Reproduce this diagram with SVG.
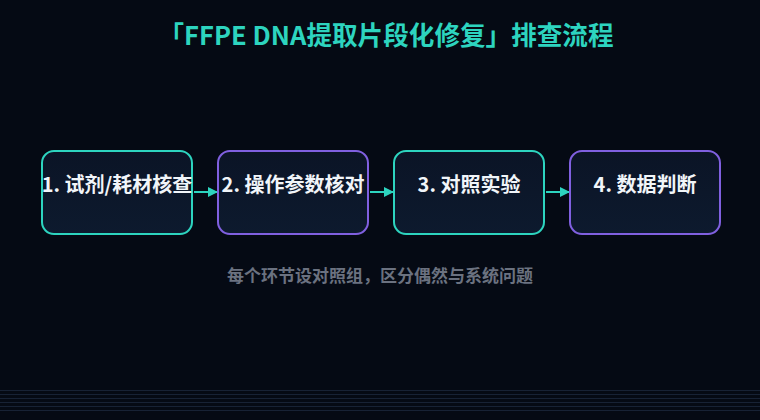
<svg xmlns="http://www.w3.org/2000/svg" width="760" height="420" viewBox="0 0 760 420">
  <defs>
    <style>
      .title { font-family: "Noto Sans CJK SC", "Noto Sans", sans-serif; font-size: 25.6px; font-weight: 700; fill: #2dd4bf; }
      .label { font-family: "Noto Sans CJK SC", "Noto Sans", sans-serif; font-size: 20px; font-weight: 700; fill: #f1f5f9; }
      .note { font-family: "Noto Sans CJK SC", "Noto Sans", sans-serif; font-size: 17px; font-weight: 700; fill: #6b7280; }
      .box { fill: url(#boxfill); stroke-width: 2; }
      .teal { stroke: #2dd4bf; }
      .purple { stroke: #8060e0; }
      .conn { stroke: #2dd4bf; stroke-width: 2; fill: none; }
      .grid { stroke: #172235; stroke-width: 1; }
    </style>
    <linearGradient id="boxfill" x1="0" y1="0" x2="0" y2="1">
      <stop offset="0" stop-color="#0b1426"/>
      <stop offset="1" stop-color="#0d1a2e"/>
    </linearGradient>
    <marker id="arrow" viewBox="0 0 10 10" refX="9" refY="5" markerWidth="10" markerHeight="10" markerUnits="userSpaceOnUse" orient="auto">
      <path d="M0,0 L10,5 L0,10 Z" fill="#2dd4bf"/>
    </marker>
  </defs>
  <rect width="760" height="420" fill="#050a14"/>
  <g id="grid-lines">
    <line class="grid" x1="0" y1="390.5" x2="760" y2="390.5"/>
    <line class="grid" x1="0" y1="394.5" x2="760" y2="394.5"/>
    <line class="grid" x1="0" y1="398.5" x2="760" y2="398.5"/>
    <line class="grid" x1="0" y1="402.5" x2="760" y2="402.5"/>
    <line class="grid" x1="0" y1="406.5" x2="760" y2="406.5"/>
    <line class="grid" x1="0" y1="410.5" x2="760" y2="410.5"/>
  </g>
  <text class="title" x="386" y="45" text-anchor="middle">「FFPE DNA提取片段化修复」排查流程</text>
  <g id="connectors">
    <line class="conn" x1="194" y1="192" x2="217" y2="192" marker-end="url(#arrow)"/>
    <line class="conn" x1="370" y1="192" x2="393" y2="192" marker-end="url(#arrow)"/>
    <line class="conn" x1="546" y1="192" x2="569" y2="192" marker-end="url(#arrow)"/>
  </g>
  <g id="node1">
    <rect class="box teal" x="42" y="151" width="150" height="83" rx="12"/>
    <text class="label" x="117" y="192" text-anchor="middle">1. 试剂/耗材核查</text>
  </g>
  <g id="node2">
    <rect class="box purple" x="218" y="151" width="150" height="83" rx="12"/>
    <text class="label" x="293" y="192" text-anchor="middle">2. 操作参数核对</text>
  </g>
  <g id="node3">
    <rect class="box teal" x="394" y="151" width="150" height="83" rx="12"/>
    <text class="label" x="469" y="192" text-anchor="middle">3. 对照实验</text>
  </g>
  <g id="node4">
    <rect class="box purple" x="570" y="151" width="150" height="83" rx="12"/>
    <text class="label" x="645" y="192" text-anchor="middle">4. 数据判断</text>
  </g>
  <text class="note" x="380" y="282" text-anchor="middle">每个环节设对照组，区分偶然与系统问题</text>
</svg>
